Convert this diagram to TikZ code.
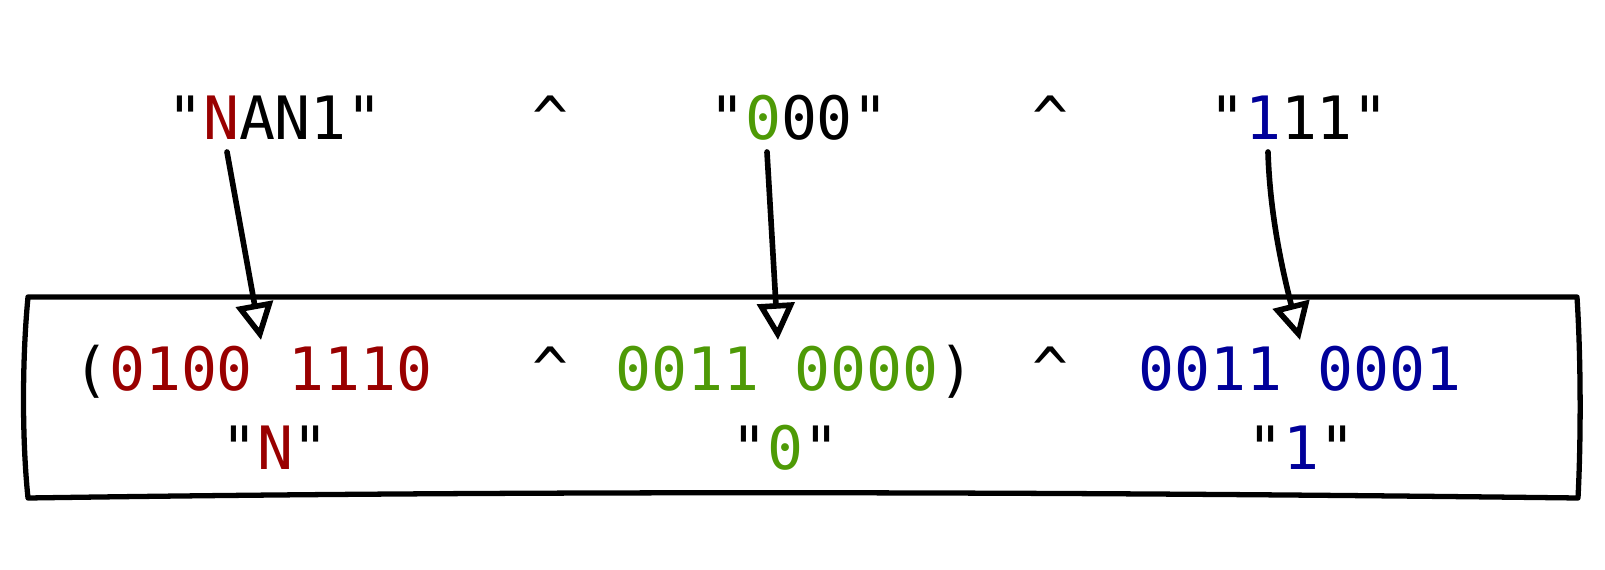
\documentclass[tikz,border=0pt]{standalone}
\usepackage{fontspec}
\setmonofont{DejaVu Sans Mono}
\usetikzlibrary{arrows.meta}
\definecolor{nred}{RGB}{153,0,0}
\definecolor{ngreen}{RGB}{78,154,6}
\definecolor{nblue}{RGB}{0,0,153}

\begin{document}
\begin{tikzpicture}[x=0.01cm, y=-0.01cm,
    txt/.style={font=\ttfamily\fontsize{17}{20}\selectfont, inner sep=0pt, anchor=base},
    sketch/.style={line width=1.5pt, line join=round, line cap=round},
    ptr/.style={line width=1.6pt, line cap=round, line join=round,
        -{Triangle[open, length=10.5pt, width=10.5pt]}}]
    \useasboundingbox (0,0) rectangle (1605,570);

    % top row: the three strings
    \node[txt] (nan1) at (275,140) {"\textcolor{nred}{N}AN1"};
    \node[txt] (xorA) at (550,140) {\textasciicircum};
    \node[txt] (zeros) at (799,140) {"\textcolor{ngreen}{0}00"};
    \node[txt] (xorB) at (1050,140) {\textasciicircum};
    \node[txt] (ones) at (1299,140) {"\textcolor{nblue}{1}11"};

    % the hand drawn box
    \draw[sketch] (28,297) -- (1577,297)
        .. controls (1581,360) and (1581,440) .. (1578,498)
        .. controls (1000,491) and (500,491) .. (28,498)
        .. controls (22,440) and (22,360) .. cycle;

    % bytes in the box
    \node[txt] (byteN) at (253,390) {(\textcolor{nred}{0100 1110}};
    \node[txt] (xorC) at (550,390) {\textasciicircum};
    \node[txt] (byteZ) at (795,390) {\textcolor{ngreen}{0011 0000})};
    \node[txt] (xorD) at (1050,390) {\textasciicircum};
    \node[txt] (byteO) at (1300,390) {\textcolor{nblue}{0011 0001}};

    % characters under the bytes
    \node[txt] (charN) at (275,470) {"\textcolor{nred}{N}"};
    \node[txt] (charZ) at (785,470) {"\textcolor{ngreen}{0}"};
    \node[txt] (charO) at (1301,470) {"\textcolor{nblue}{1}"};

    % arrows from the first character to its byte
    \coordinate (fromN) at (227,152);
    \coordinate (toN) at (261,340);
    \coordinate (fromZ) at (767,152);
    \coordinate (toZ) at (778,340);
    \coordinate (fromO) at (1268,152);
    \coordinate (toO) at (1300,340);
    \draw[ptr] (fromN) -- (toN);
    \draw[ptr] (fromZ) -- (toZ);
    \draw[ptr] (fromO) .. controls (1270,220) and (1285,280) .. (toO);
\end{tikzpicture}
\end{document}
